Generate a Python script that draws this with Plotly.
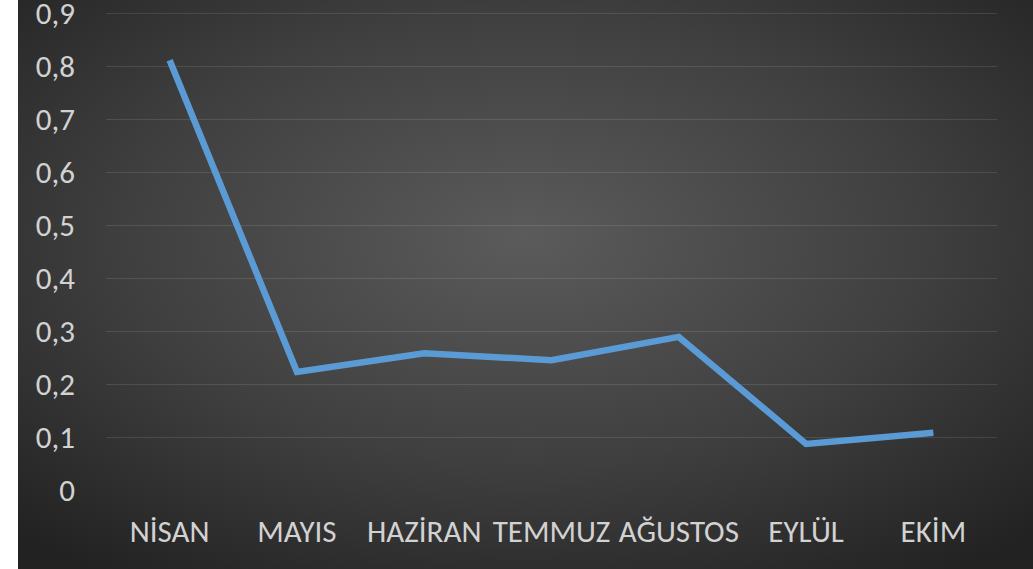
import base64
import plotly.graph_objects as go

# Monthly values
months = ["NİSAN", "MAYIS", "HAZİRAN", "TEMMUZ", "AĞUSTOS", "EYLÜL", "EKİM"]
values = [0.811, 0.223, 0.258, 0.245, 0.289, 0.087, 0.108]

# Value axis ticks
y_ticks = [0, 0.1, 0.2, 0.3, 0.4, 0.5, 0.6, 0.7, 0.8, 0.9]
y_labels = ["0", "0,1", "0,2", "0,3", "0,4", "0,5", "0,6", "0,7", "0,8", "0,9"]

W, H = 1033, 569
ML, MR, MT, MB = 106, 36, 10, 79
BG_LEFT = 18  # white strip on the left before the dark panel

# Radial-gradient dark panel as an SVG background image
svg = f"""<svg xmlns='http://www.w3.org/2000/svg' width='{W - BG_LEFT}' height='{H}' preserveAspectRatio='none' viewBox='0 0 {W - BG_LEFT} {H}'>
<defs><radialGradient id='g' cx='0.5' cy='0.42' r='0.72'>
<stop offset='0' stop-color='#5b5b5b'/>
<stop offset='0.55' stop-color='#3f3f3f'/>
<stop offset='1' stop-color='#222222'/>
</radialGradient></defs>
<rect width='100%' height='100%' fill='url(#g)'/></svg>"""
src = "data:image/svg+xml;base64," + base64.b64encode(svg.encode()).decode()

pw = W - ML - MR
ph = H - MT - MB

fig = go.Figure()
fig.add_trace(go.Scatter(
    x=months, y=values, mode="lines",
    line=dict(color="#5b9bd5", width=6.5),
    hoverinfo="skip",
))

fig.add_layout_image(dict(
    source=src, xref="paper", yref="paper",
    x=(BG_LEFT - ML) / pw, y=1 + MT / ph,
    sizex=(W - BG_LEFT) / pw, sizey=H / ph,
    xanchor="left", yanchor="top", sizing="stretch", layer="below",
))

font = dict(family="Carlito, 'Open Sans', 'Noto Sans', sans-serif", size=31, color="#d2d2d2")

fig.update_layout(
    width=W, height=H,
    margin=dict(l=ML, r=MR, t=MT, b=MB, autoexpand=False),
    paper_bgcolor="white", plot_bgcolor="rgba(0,0,0,0)",
    showlegend=False,
    font=font,
    xaxis=dict(
        showgrid=False, zeroline=False, showline=False, automargin=False,
        ticks="", tickfont=font, ticklabelstandoff=20,
        range=[-0.5, len(months) - 0.5],
    ),
    yaxis=dict(
        range=[0, 0.906], tickmode="array", tickvals=y_ticks, ticktext=y_labels,
        showgrid=True, gridcolor="rgba(255,255,255,0.11)", gridwidth=1.3,
        zeroline=False, showline=False, ticks="", automargin=False,
        tickfont=font, ticklabelstandoff=30, ticklabeloverflow="allow",
    ),
)

fig.write_html("out.html")
